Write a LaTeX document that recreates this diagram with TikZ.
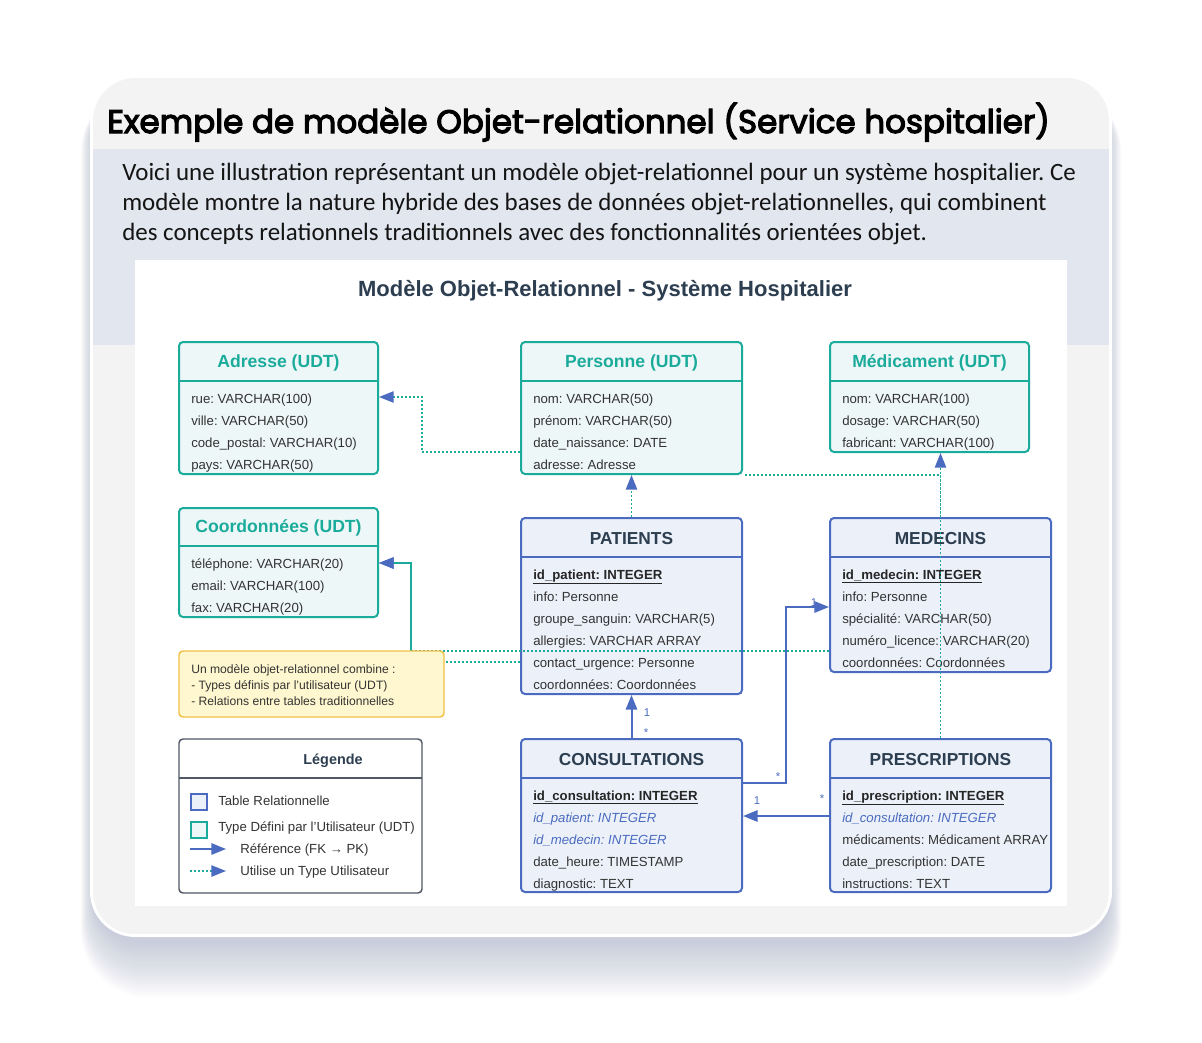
\documentclass[tikz,border=0pt]{standalone}
\usepackage{fontspec}
\setmainfont{Liberation Sans}
\newfontfamily\titlefont[FakeBold=3.5]{Poppins}
\newfontfamily\parafont{Carlito}
\usetikzlibrary{arrows.meta,fit}
\frenchspacing

\definecolor{tblline}{HTML}{4A6BBF}
\definecolor{tblfill}{HTML}{ECF0F9}
\definecolor{udtline}{HTML}{1AAB9B}
\definecolor{udtfill}{HTML}{EEF7F8}
\definecolor{headtext}{HTML}{2C3E50}
\definecolor{fieldtext}{HTML}{333333}
\definecolor{notefill}{HTML}{FFF7CF}
\definecolor{noteline}{HTML}{F0C248}
\definecolor{legline}{HTML}{4F5863}
\definecolor{cardgray}{HTML}{F3F3F3}
\definecolor{bandblue}{HTML}{E2E6EF}
\definecolor{shadowc}{HTML}{9AA5C2}

\tikzset{
  box/.style={draw, line width=1.5pt, rounded corners=3pt, inner sep=0pt},
  udtbox/.style={box, draw=udtline, fill=udtfill},
  tblbox/.style={box, draw=tblline, fill=tblfill},
  udthead/.style={font=\bfseries\fontsize{13.2}{15}\selectfont, text=udtline},
  tblhead/.style={font=\bfseries\fontsize{13}{15}\selectfont, text=headtext},
  field/.style={anchor=base west, inner sep=0pt, font=\fontsize{9.9}{12}\selectfont, text=fieldtext},
  fkey/.style={field, text=tblline, font=\itshape\fontsize{9.9}{12}\selectfont},
  pkey/.style={field, text=black!85, font=\bfseries\fontsize{9.9}{12}\selectfont},
  ref/.style={draw=tblline, line width=1.5pt, -{Triangle[length=11pt,width=8.5pt]}},
  uses/.style={draw=udtline, line width=1.1pt, dash pattern=on 1.3pt off 1.7pt,
    -{Triangle[length=11pt,width=8.5pt,color=tblline]}},
  mult/.style={font=\fontsize{8.5}{10}\selectfont, text=tblline, inner sep=0pt},
  intro/.style={anchor=base west, inner sep=0pt, text=black!92, font=\parafont\fontsize{18.7}{22}\selectfont},
}

\begin{document}
\begin{tikzpicture}[x=0.75pt, y=-0.75pt]
\useasboundingbox (0,0) rectangle (1202,1042);
\fill[white] (0,0) rectangle (1202,1042);

%%%%%%%%%%%%%%%%%%%%%%%%%%%%%%%%%%%%%%%% card
\foreach \s in {1,...,22}
  \fill[shadowc, opacity=0.028, rounded corners={(34+\s*0.75)*1pt}]
    (94-\s*0.6, 92-\s*0.3) rectangle (1108+\s*0.6, 940+\s*2.6);
\fill[white, rounded corners=34pt] (90,75) rectangle (1112,937);
\begin{scope}
  \clip[rounded corners=32pt] (93,78) rectangle (1109,934);
  \fill[cardgray] (93,78) rectangle (1109,934);
  \fill[bandblue] (93,149) rectangle (1109,345);
\end{scope}
\fill[white] (135,260) rectangle (1067,906);

\node[anchor=base west, inner sep=0pt, font=\titlefont\fontsize{24.4}{28}\selectfont] (title) at (107,133)
  {Exemple de modèle Objet-relationnel (Service hospitalier)};
\node[intro] (intro-1) at (122,180)
  {Voici une illustration représentant un modèle objet-relationnel pour un système hospitalier. Ce};
\node[intro] (intro-2) at (122,210)
  {modèle montre la nature hybride des bases de données objet-relationnelles, qui combinent};
\node[intro] (intro-3) at (122,240)
  {des concepts relationnels traditionnels avec des fonctionnalités orientées objet.};
\node[inner sep=0pt, text=headtext, font=\bfseries\fontsize{16.5}{19}\selectfont] (dtitle) at (605,291)
  {Modèle Objet-Relationnel - Système Hospitalier};

%%%%%%%%%%%%%%%%%%%%%%%%%%%%%%%%%%%%%%%% UDT boxes
\node[udtbox, fit={(179,342) (378,474)}] (adr) {};
\draw[udtline, line width=1.5pt] (179,381) -- (378,381);
\node[udthead] (adrh) at (278.5,363) {Adresse (UDT)};
\foreach \t [count=\i] in {rue: VARCHAR(100), ville: VARCHAR(50), code\_postal: VARCHAR(10), pays: VARCHAR(50)}
  \node[field] (adr-\i) at (191, 381+22*\i) {\t};

\node[udtbox, fit={(179,508) (378,617)}] (coord) {};
\draw[udtline, line width=1.5pt] (179,546) -- (378,546);
\node[udthead] (coordh) at (278.5,528) {Coordonnées (UDT)};
\foreach \t [count=\i] in {téléphone: VARCHAR(20), email: VARCHAR(100), fax: VARCHAR(20)}
  \node[field] (coord-\i) at (191, 546+22*\i) {\t};

\node[udtbox, fit={(521,342) (742,474)}] (pers) {};
\draw[udtline, line width=1.5pt] (521,381) -- (742,381);
\node[udthead] (persh) at (631.5,363) {Personne (UDT)};
\foreach \t [count=\i] in {nom: VARCHAR(50), prénom: VARCHAR(50), date\_naissance: DATE, adresse: Adresse}
  \node[field] (pers-\i) at (533, 381+22*\i) {\t};

\node[udtbox, fit={(830,342) (1029,452)}] (medic) {};
\draw[udtline, line width=1.5pt] (830,381) -- (1029,381);
\node[udthead] (medich) at (929.5,363) {Médicament (UDT)};
\foreach \t [count=\i] in {nom: VARCHAR(100), dosage: VARCHAR(50), fabricant: VARCHAR(100)}
  \node[field] (medic-\i) at (842, 381+22*\i) {\t};

%%%%%%%%%%%%%%%%%%%%%%%%%%%%%%%%%%%%%%%% tables
\node[tblbox, fit={(521,518) (742,694)}] (pat) {};
\draw[tblline, line width=1.5pt] (521,557) -- (742,557);
\node[tblhead] (path) at (631.5,539) {PATIENTS};
\node[pkey] (pat-1) at (533,579) {\underline{id\_patient: INTEGER}};
\foreach \t [count=\i from 2] in {info: Personne, groupe\_sanguin: VARCHAR(5), allergies: VARCHAR ARRAY, contact\_urgence: Personne, coordonnées: Coordonnées}
  \node[field] (pat-\i) at (533, 557+22*\i) {\t};

\node[tblbox, fit={(830,518) (1051,672)}] (med) {};
\draw[tblline, line width=1.5pt] (830,557) -- (1051,557);
\node[tblhead] (medh) at (940.5,539) {MEDECINS};
\node[pkey] (med-1) at (842,579) {\underline{id\_medecin: INTEGER}};
\foreach \t [count=\i from 2] in {info: Personne, spécialité: VARCHAR(50), numéro\_licence: VARCHAR(20), coordonnées: Coordonnées}
  \node[field] (med-\i) at (842, 557+22*\i) {\t};

\node[tblbox, fit={(521,739) (742,892)}] (cons) {};
\draw[tblline, line width=1.5pt] (521,778) -- (742,778);
\node[tblhead] (consh) at (631.5,760) {CONSULTATIONS};
\node[pkey] (cons-1) at (533,800) {\underline{id\_consultation: INTEGER}};
\node[fkey] (cons-2) at (533,822) {id\_patient: INTEGER};
\node[fkey] (cons-3) at (533,844) {id\_medecin: INTEGER};
\node[field] (cons-4) at (533,866) {date\_heure: TIMESTAMP};
\node[field] (cons-5) at (533,888) {diagnostic: TEXT};

\node[tblbox, fit={(830,739) (1051,892)}] (presc) {};
\draw[tblline, line width=1.5pt] (830,778) -- (1051,778);
\node[tblhead] (presch) at (940.5,760) {PRESCRIPTIONS};
\node[pkey] (presc-1) at (842,800) {\underline{id\_prescription: INTEGER}};
\node[fkey] (presc-2) at (842,822) {id\_consultation: INTEGER};
\node[field] (presc-3) at (842,844) {médicaments: Médicament ARRAY};
\node[field] (presc-4) at (842,866) {date\_prescription: DATE};
\node[field] (presc-5) at (842,888) {instructions: TEXT};

%%%%%%%%%%%%%%%%%%%%%%%%%%%%%%%%%%%%%%%% connectors
\draw[uses] (pers.west |- 0,452) -- (422,452) |- (adr.east |- 0,397);
\draw[uses] (pat.north) -- (pers.south);
\draw[uses, -] (med.north) |- (pers.south east);
\draw[uses] (presc.north) -- (presc.north |- medic.south);
\draw[uses] (med.west |- 0,651) -- (411,651) |- (coord.east |- 0,563);
\draw[uses] (pat.west |- 0,662) -- (411,662) |- (coord.east |- 0,563);

\draw[ref] (cons.north) -- (pat.south);
\node[mult] (m1) at (647,713) {1};
\node[mult] (m2) at (646,733) {*};
\draw[ref] (cons.east |- 0,783) -- (786,783) |- (med.west |- 0,607);
\node[mult] (m3) at (778,777) {*};
\node[mult] (m4) at (814,603) {1};
\draw[ref] (presc.west |- 0,816) -- (cons.east |- 0,816);
\node[mult] (m5) at (757,801) {1};
\node[mult] (m6) at (822,799) {*};

%%%%%%%%%%%%%%%%%%%%%%%%%%%%%%%%%%%%%%%% note and legend
\node[box, line width=1.1pt, draw=noteline, fill=notefill, fit={(179,651) (444,717)}] (note) {};
\node[anchor=west, inner sep=0pt, align=left, text=fieldtext,
  font=\fontsize{9.1}{12.3}\selectfont] (notetxt) at (191,685)
  {Un modèle objet-relationnel combine :\\
   - Types définis par l'utilisateur (UDT)\\
   - Relations entre tables traditionnelles};

\node[box, line width=1.1pt, draw=legline, fill=white, fit={(179,739) (422,893)}] (leg) {};
\draw[legline, line width=1.1pt] (179,778) -- (422,778);
\node[font=\bfseries\fontsize{10.8}{13}\selectfont, text=headtext] (legh) at (333,761) {Légende};
\node[draw=tblline, fill=tblfill, line width=1.5pt, minimum size=12pt, inner sep=0pt] (lg1) at (199,802) {};
\node[field, anchor=west] (lg1t) at (218,801) {Table Relationnelle};
\node[draw=udtline, fill=udtfill, line width=1.5pt, minimum size=12pt, inner sep=0pt] (lg2) at (199,830) {};
\node[field, anchor=west] (lg2t) at (218,828) {Type Défini par l'Utilisateur (UDT)};
\coordinate (lg3a) at (190,849);
\coordinate (lg3b) at (226,849);
\draw[ref] (lg3a) -- (lg3b);
\node[field, anchor=west] (lg3t) at (240,850) {Référence (FK → PK)};
\coordinate (lg4a) at (190,871);
\coordinate (lg4b) at (226,871);
\draw[uses] (lg4a) -- (lg4b);
\node[field, anchor=west] (lg4t) at (240,872) {Utilise un Type Utilisateur};

\end{tikzpicture}
\end{document}
